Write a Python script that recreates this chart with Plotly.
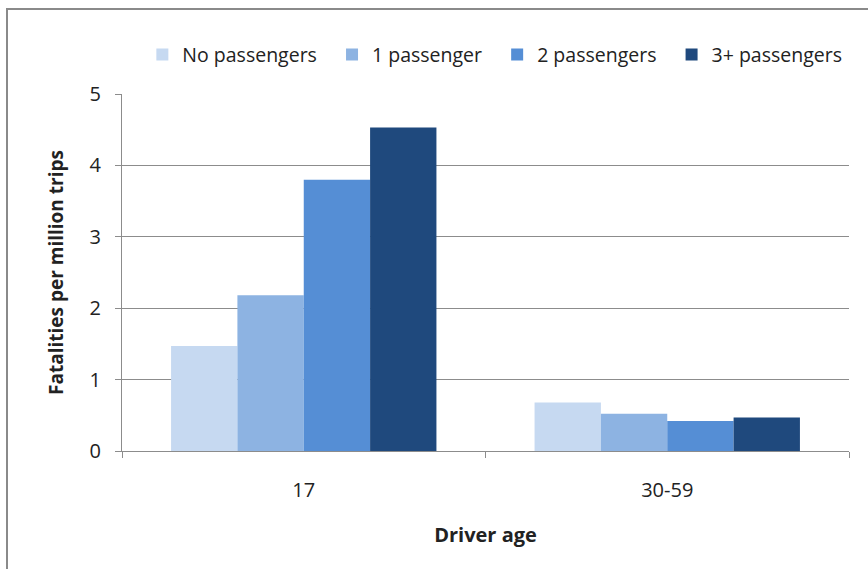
import plotly.graph_objects as go

categories = ["17", "30-59"]
series_names = ["No passengers", "1 passenger", "2 passengers", "3+ passengers"]
no_passengers = [1.47, 0.68]
one_passenger = [2.18, 0.52]
two_passengers = [3.80, 0.42]
three_plus_passengers = [4.53, 0.47]
colors = ["#C6D9F1", "#8DB3E2", "#558ED5", "#1F497D"]
y_ticks = [0, 1, 2, 3, 4, 5]

font_family = "'Open Sans', sans-serif"
series_values = [no_passengers, one_passenger, two_passengers, three_plus_passengers]

pad = "\u00a0\u00a0"
fig = go.Figure()
for i, (name, vals, col) in enumerate(zip(series_names, series_values, colors)):
    label = name + (pad if i < len(series_names) - 1 else "")
    fig.add_trace(go.Bar(x=categories, y=vals, name=label,
                         marker=dict(color=col, line=dict(width=0))))

fig.update_layout(
    width=868, height=569,
    margin=dict(l=122, r=19, t=94, b=118, autoexpand=False),
    paper_bgcolor="white", plot_bgcolor="white",
    barmode="group", bargap=0.27, bargroupgap=0,
    font=dict(family=font_family, size=20, color="#222222"),
    legend=dict(orientation="h", x=0.028, y=1.11, xanchor="left", yanchor="middle",
                font=dict(size=19.5, color="#222222"), itemwidth=30, traceorder="normal",
                borderwidth=0, bgcolor="rgba(0,0,0,0)"),
    showlegend=True,
)
fig.update_yaxes(range=[0, 5], tickvals=y_ticks, showgrid=True, gridcolor="#8c8c8c", gridwidth=1,
                 showline=True, linecolor="#8c8c8c", linewidth=1,
                 ticks="outside", ticklen=6, tickcolor="#8c8c8c", ticklabelstandoff=10,
                 zeroline=False,
                 title=dict(text="<b>Fatalities per million trips</b>", font=dict(size=19), standoff=20))
fig.update_xaxes(showline=True, linecolor="#8c8c8c", linewidth=1, ticks="outside",
                 tickson="boundaries", ticklen=6, tickcolor="#8c8c8c", ticklabelstandoff=21,
                 title=dict(text="<b>Driver age</b>", font=dict(size=20), standoff=25))

# outer frame
fig.add_shape(type="rect", xref="paper", yref="paper",
              x0=-115/727, x1=(890-122)/727, y0=-(600-451)/357, y1=(451-9)/357,
              line=dict(color="#8a8a8a", width=2), fillcolor="rgba(0,0,0,0)", layer="above")

fig.write_html("out.html")
